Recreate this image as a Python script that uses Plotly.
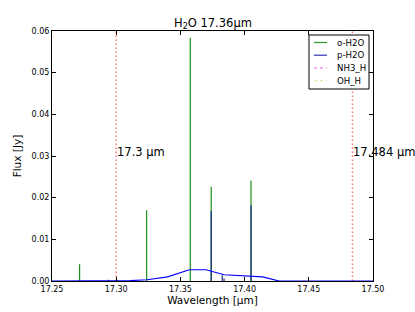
import plotly.graph_objects as go

# ---- data ----
o_h2o_wl = [17.2715, 17.3237, 17.3577, 17.3740, 17.4050]
o_h2o_flux = [0.0040, 0.0170, 0.0584, 0.0226, 0.0241]

p_h2o_wl = [17.2940, 17.3740, 17.3826, 17.3840, 17.4050]
p_h2o_flux = [0.0003, 0.0168, 0.0014, 0.0006, 0.0182]

cont_wl = [17.25, 17.300, 17.311, 17.324, 17.340, 17.357, 17.370, 17.384, 17.404, 17.414, 17.427, 17.50]
cont_flux = [0.0, 0.0, 0.0001, 0.0003, 0.0010, 0.0027, 0.0027, 0.0015, 0.0012, 0.0010, 0.0, 0.0]

marker_wl = [17.3, 17.484]
marker_labels = ["17.3 μm", "17.484 μm"]

x_ticks = [17.25, 17.30, 17.35, 17.40, 17.45, 17.50]
y_ticks = [0.00, 0.01, 0.02, 0.03, 0.04, 0.05, 0.06]

legend_names = ["o-H2O", "p-H2O", "NH3_H", "OH_H"]
legend_colors = ["#2a9a2a", "#3232b0", "violet", "#e2e8a8"]
legend_dashes = ["solid", "solid", "dot", "dot"]

FONT = "DejaVu Sans"
W, H = 415, 312
ML, MR, MT, MB = 52, 42, 31, 31
PW, PH = W - ML - MR, H - MT - MB


def px_to_paper(px, py):
    return (px - ML) / PW, (H - MB - py) / PH


def sticks(xs, hs):
    X, Y = [], []
    for x, h in zip(xs, hs):
        X += [x, x, None]
        Y += [0, h, None]
    return X, Y


fig = go.Figure()

# red dotted wavelength markers
mx, my = [], []
for w in marker_wl:
    mx += [w, w, None]
    my += [0, 0.06, None]
fig.add_trace(go.Scatter(x=mx, y=my, mode="lines", showlegend=False,
                         line=dict(color="rgba(255,60,60,0.7)", width=1.5, dash="1.5px,2.5px"),
                         hoverinfo="skip"))

gx, gy = sticks(o_h2o_wl, o_h2o_flux)
fig.add_trace(go.Scatter(x=gx, y=gy, mode="lines", name="o-H2O", showlegend=False,
                         line=dict(color="#1a8f1a", width=1.2)))

bx, by = sticks(p_h2o_wl, p_h2o_flux)
fig.add_trace(go.Scatter(x=bx, y=by, mode="lines", name="p-H2O", showlegend=False,
                         line=dict(color="#1c2a8c", width=1.2)))

fig.add_trace(go.Scatter(x=cont_wl, y=cont_flux, mode="lines", showlegend=False,
                         line=dict(color="blue", width=1.2)))

for w, lab in zip(marker_wl, marker_labels):
    fig.add_annotation(x=w, y=0.031, text=lab, showarrow=False,
                       xanchor="left", yanchor="middle", xshift=-1,
                       font=dict(family=FONT, size=11.5, color="black"))

# title
tx, ty = px_to_paper(212.5, 23.5)
fig.add_annotation(x=tx, y=ty, xref="paper", yref="paper", showarrow=False,
                   text="H<sub>2</sub>O 17.36μm", xanchor="center", yanchor="middle",
                   font=dict(family=FONT, size=11.5, color="black"))

# manual legend (compact, matplotlib-like)
bx0, by0 = px_to_paper(309, 35)
bx1, by1 = px_to_paper(369, 89)
fig.add_shape(type="rect", xref="paper", yref="paper", x0=bx0, x1=bx1, y0=by1, y1=by0,
              line=dict(color="black", width=1), fillcolor="white", layer="above")
for i, (name, col, dash) in enumerate(zip(legend_names, legend_colors, legend_dashes)):
    rowy = 42.5 + i * 12.7
    lx0, ly = px_to_paper(314, rowy)
    lx1, _ = px_to_paper(327, rowy)
    fig.add_shape(type="line", xref="paper", yref="paper", x0=lx0, x1=lx1, y0=ly, y1=ly,
                  line=dict(color=col, width=1.2, dash=dash), layer="above")
    txp, _ = px_to_paper(335, rowy)
    fig.add_annotation(x=txp, y=ly, xref="paper", yref="paper", showarrow=False,
                       text=name, xanchor="left", yanchor="middle",
                       font=dict(family=FONT, size=8.6, color="black"))

axis_common = dict(
    showline=True, linecolor="black", linewidth=1, mirror="allticks",
    ticks="inside", ticklen=4, tickcolor="black", showgrid=False, zeroline=False,
    automargin=False,
    tickfont=dict(family=FONT, size=8, color="black"),
)

fig.update_xaxes(range=[17.25, 17.50], tickvals=x_ticks,
                 ticktext=[f"{v:.2f}" for v in x_ticks],
                 title=dict(text="Wavelength [μm]", font=dict(family=FONT, size=10.5, color="black"), standoff=2),
                 **axis_common)
fig.update_yaxes(range=[0, 0.06], tickvals=y_ticks,
                 ticktext=[f"{v:.2f}" for v in y_ticks],
                 title=dict(text="Flux [Jy]", font=dict(family=FONT, size=10.5, color="black"), standoff=7),
                 **axis_common)

fig.update_layout(
    width=W, height=H,
    margin=dict(l=ML, r=MR, t=MT, b=MB, autoexpand=False),
    paper_bgcolor="white", plot_bgcolor="white",
    font=dict(family=FONT, color="black"),
    showlegend=False,
)

fig.write_html("out.html", config={"displayModeBar": False},
               post_script="document.body.style.margin='0px';document.body.style.overflow='hidden';")
